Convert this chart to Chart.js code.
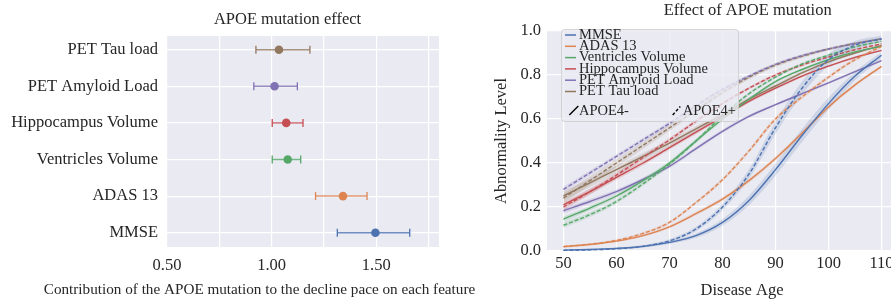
<!DOCTYPE html>
<html><head><meta charset="utf-8">
<script src="https://cdn.jsdelivr.net/npm/chart.js@4.4.1/dist/chart.umd.min.js"></script>
<style>
html,body{margin:0;padding:0;background:#fff;width:891px;height:306px;overflow:hidden;position:relative;}
#left{position:absolute;left:0;top:0;}
#right{position:absolute;left:480px;top:0;}
</style></head><body>
<canvas id="left" width="480" height="306"></canvas>
<canvas id="right" width="470" height="306"></canvas>
<script>
// ---------- Left panel data ----------
const features = ['MMSE','ADAS 13','Ventricles Volume','Hippocampus Volume','PET Amyloid Load','PET Tau load'];
const effect = [1.496, 1.341, 1.077, 1.070, 1.014, 1.035];
const ciLow  = [1.314, 1.210, 1.003, 1.003, 0.915, 0.925];
const ciHigh = [1.660, 1.456, 1.139, 1.150, 1.123, 1.183];
const leftXTicks = [0.5, 0.75, 1.0, 1.25, 1.5, 1.75];
const leftXLabeled = [0.5, 1.0, 1.5];
const colors = ['#4C72B0','#DD8452','#55A868','#C44E52','#8172B3','#937860'];

// ---------- Right panel data ----------
const ages = [50,55,60,65,70,75,80,85,90,95,100,105,110];
const mmseNeg  = [0.004,0.007,0.012,0.021,0.039,0.070,0.130,0.230,0.370,0.525,0.670,0.795,0.890];
const mmsePos  = [0.003,0.005,0.010,0.021,0.046,0.100,0.200,0.350,0.560,0.740,0.870,0.935,0.965];
const adasNeg  = [0.020,0.030,0.045,0.070,0.110,0.170,0.236,0.320,0.420,0.535,0.655,0.755,0.839];
const adasPos  = [0.020,0.030,0.048,0.080,0.130,0.220,0.324,0.455,0.600,0.700,0.790,0.870,0.930];
const ventNeg  = [0.145,0.195,0.250,0.320,0.400,0.500,0.600,0.690,0.770,0.825,0.870,0.905,0.930];
const ventPos  = [0.117,0.165,0.225,0.305,0.395,0.500,0.615,0.715,0.790,0.850,0.890,0.928,0.953];
const hippoNeg = [0.210,0.270,0.335,0.400,0.470,0.540,0.610,0.680,0.740,0.795,0.840,0.880,0.912];
const hippoPos = [0.200,0.270,0.345,0.425,0.505,0.590,0.670,0.740,0.800,0.845,0.882,0.915,0.942];
const amyNeg   = [0.183,0.225,0.270,0.325,0.385,0.465,0.544,0.612,0.665,0.715,0.764,0.815,0.865];
const amyPos   = [0.280,0.355,0.430,0.505,0.580,0.660,0.735,0.795,0.848,0.888,0.918,0.943,0.963];
const tauNeg   = [0.250,0.310,0.370,0.430,0.490,0.555,0.620,0.690,0.750,0.810,0.860,0.900,0.935];
const tauPos   = [0.240,0.320,0.400,0.480,0.560,0.640,0.720,0.790,0.845,0.885,0.918,0.943,0.965];
// half-widths of the shaded confidence bands
const mmseBand  = [0.003,0.003,0.004,0.005,0.007,0.010,0.015,0.022,0.028,0.030,0.027,0.020,0.014];
const adasBand  = [0.005,0.005,0.005,0.006,0.007,0.008,0.009,0.010,0.010,0.010,0.009,0.008,0.007];
const ventBand  = [0.012,0.011,0.010,0.010,0.010,0.009,0.009,0.008,0.007,0.006,0.005,0.005,0.004];
const hippoBand = [0.015,0.013,0.012,0.011,0.010,0.009,0.008,0.007,0.007,0.006,0.005,0.005,0.004];
const amyBand   = [0.012,0.011,0.010,0.009,0.009,0.008,0.008,0.007,0.006,0.006,0.005,0.005,0.004];
const tauBand   = [0.022,0.020,0.018,0.016,0.014,0.012,0.011,0.010,0.009,0.008,0.007,0.006,0.005];
const rightXTicks = [50,60,70,80,90,100,110,120];
const rightYTicks = [0,0.2,0.4,0.6,0.8,1.0];

const negSeries = [mmseNeg, adasNeg, ventNeg, hippoNeg, amyNeg, tauNeg];
const posSeries = [mmsePos, adasPos, ventPos, hippoPos, amyPos, tauPos];
const bands = [mmseBand, adasBand, ventBand, hippoBand, amyBand, tauBand];

const SERIF = '"Liberation Serif","Times New Roman",serif';
const TXT = '#262626';

function hexA(hex, a){
  const n = parseInt(hex.slice(1),16);
  return `rgba(${(n>>16)&255},${(n>>8)&255},${n&255},${a})`;
}

const bgPlugin = { id:'bg', beforeDraw(chart){
  const {ctx, chartArea:a} = chart;
  ctx.save(); ctx.fillStyle = '#EAEAF2';
  ctx.fillRect(a.left, a.top, a.right-a.left, a.bottom-a.top); ctx.restore();
}};
function textPlugin(items){ return { id:'txt', afterDraw(chart){
  const ctx = chart.ctx;
  items.forEach(t => {
    ctx.save(); ctx.font = t.font; ctx.fillStyle = TXT;
    ctx.textAlign = 'center'; ctx.textBaseline = 'middle';
    ctx.translate(t.x, t.y); if (t.rot) ctx.rotate(t.rot);
    ctx.fillText(t.text, 0, 0); ctx.restore();
  });
}};}

// ---------- Left chart ----------
const leftDatasets = [];
features.forEach((f,i) => {
  leftDatasets.push({ data:[{x:effect[i], y:i}], showLine:false, pointRadius:4.3,
    pointBackgroundColor:colors[i], pointBorderColor:colors[i], pointBorderWidth:0, pointHoverRadius:4.3 });
});
features.forEach((f,i) => {
  leftDatasets.push({ data:[{x:ciLow[i], y:i},{x:ciHigh[i], y:i}], showLine:true,
    borderColor:hexA(colors[i],0.8), borderWidth:1.5, pointStyle:'line', rotation:90,
    pointRadius:4, pointBorderColor:colors[i], pointBorderWidth:1.3, pointBackgroundColor:colors[i] });
});

new Chart(document.getElementById('left'), {
  type:'scatter',
  data:{ datasets:leftDatasets },
  options:{
    responsive:false, animation:false, devicePixelRatio:1,
    layout:{ padding:{ top:36, right:41, left:0, bottom:0 } },
    plugins:{ legend:{display:false}, tooltip:{enabled:false} },
    scales:{
      x:{ type:'linear', min:0.5, max:1.8,
        afterBuildTicks:s => { s.ticks = leftXTicks.map(v => ({value:v})); },
        afterFit:s => { s.height = 59; },
        grid:{ color:'#ffffff', lineWidth:1.2, drawTicks:false },
        border:{ display:false },
        ticks:{ padding:9, color:TXT, font:{ family:SERIF, size:16.5 }, maxRotation:0, autoSkip:false,
          callback:v => leftXLabeled.some(l => Math.abs(l-v) < 1e-6) ? v.toFixed(2) : '' } },
      y:{ type:'linear', min:-0.39, max:5.374,
        afterBuildTicks:s => { s.ticks = features.map((f,i) => ({value:i})); },
        afterFit:s => { s.width = 167; },
        grid:{ color:'#ffffff', lineWidth:1.2, drawTicks:false },
        border:{ display:false },
        ticks:{ padding:9, color:TXT, font:{ family:SERIF, size:16.5 }, autoSkip:false,
          callback:v => features[v] } }
    }
  },
  plugins:[ bgPlugin, textPlugin([
    { text:'APOE mutation effect', x:287.5, y:20, font:`16.5px ${SERIF}` },
    { text:'Contribution of the APOE mutation to the decline pace on each feature', x:259.5, y:290, font:`15.2px ${SERIF}` }
  ]) ]
});

// ---------- Right chart ----------
const rightDatasets = [];
features.forEach((f,i) => {
  rightDatasets.push({ data:ages.map((a,k)=>({x:a, y:negSeries[i][k]})), borderColor:colors[i],
    borderWidth:1.4, pointRadius:0, tension:0.4, cubicInterpolationMode:'monotone', fill:false });
  rightDatasets.push({ data:ages.map((a,k)=>({x:a, y:posSeries[i][k]})), borderColor:colors[i],
    borderWidth:1.4, borderDash:[4,2], pointRadius:0, tension:0.4, cubicInterpolationMode:'monotone', fill:false });
});
features.forEach((f,i) => {
  [negSeries[i], posSeries[i]].forEach(ser => {
    rightDatasets.push({ data:ages.map((a,k)=>({x:a, y:ser[k]+bands[i][k]})), borderWidth:0,
      pointRadius:0, tension:0.4, cubicInterpolationMode:'monotone', fill:false, borderColor:'rgba(0,0,0,0)' });
    rightDatasets.push({ data:ages.map((a,k)=>({x:a, y:ser[k]-bands[i][k]})), borderWidth:0,
      pointRadius:0, tension:0.4, cubicInterpolationMode:'monotone', fill:'-1', borderColor:'rgba(0,0,0,0)',
      backgroundColor:hexA(colors[i],0.18) });
  });
});

const legendPlugin = { id:'lg', afterDatasetsDraw(chart){
  const ctx = chart.ctx;
  ctx.save();
  ctx.beginPath();
  ctx.roundRect(81.5, 29.5, 177, 92, 3);
  ctx.fillStyle = 'rgba(234,234,242,0.8)'; ctx.fill();
  ctx.strokeStyle = 'rgba(204,204,204,0.8)'; ctx.lineWidth = 1; ctx.stroke();
  ctx.font = `14.5px ${SERIF}`; ctx.textBaseline = 'middle'; ctx.textAlign = 'left';
  features.forEach((n,i) => {
    const y = 35 + i*11.3;
    ctx.strokeStyle = colors[i]; ctx.lineWidth = 1.5; ctx.setLineDash([]);
    ctx.beginPath(); ctx.moveTo(85, y); ctx.lineTo(96, y); ctx.stroke();
    ctx.fillStyle = TXT; ctx.fillText(n, 99, y);
  });
  const yr = 110.7;
  ctx.strokeStyle = '#000'; ctx.lineWidth = 1.4;
  ctx.beginPath(); ctx.moveTo(89.3, 115); ctx.lineTo(98.3, 106); ctx.stroke();
  ctx.fillText('APOE4-', 99, yr);
  ctx.setLineDash([3,2]);
  ctx.beginPath(); ctx.moveTo(192.7, 115); ctx.lineTo(200.3, 106.5); ctx.stroke();
  ctx.setLineDash([]);
  ctx.fillText('APOE4+', 202.7, yr);
  ctx.restore();
}};

new Chart(document.getElementById('right'), {
  type:'line',
  data:{ datasets:rightDatasets },
  options:{
    responsive:false, animation:false, devicePixelRatio:1,
    layout:{ padding:{ top:31, right:10, left:0, bottom:0 } },
    plugins:{ legend:{display:false}, tooltip:{enabled:false}, filler:{ propagate:false } },
    scales:{
      x:{ type:'linear', min:46.9, max:120.6,
        afterBuildTicks:s => { s.ticks = rightXTicks.map(v => ({value:v})); },
        afterFit:s => { s.height = 55; },
        grid:{ color:'#ffffff', lineWidth:1.2, drawTicks:false },
        border:{ display:false },
        ticks:{ padding:3, color:TXT, font:{ family:SERIF, size:16.5 }, maxRotation:0, autoSkip:false,
          callback:v => String(v) } },
      y:{ type:'linear', min:0, max:1,
        afterBuildTicks:s => { s.ticks = rightYTicks.map(v => ({value:v})); },
        afterFit:s => { s.width = 67; },
        grid:{ color:'#ffffff', lineWidth:1.2, drawTicks:false },
        border:{ display:false },
        ticks:{ padding:6, color:TXT, font:{ family:SERIF, size:16.5 }, autoSkip:false,
          callback:v => v.toFixed(1) } }
    }
  },
  plugins:[ bgPlugin, legendPlugin, textPlugin([
    { text:'Effect of APOE mutation', x:267.7, y:11, font:`16.5px ${SERIF}` },
    { text:'Disease Age', x:262, y:291, font:`16.5px ${SERIF}` },
    { text:'Abnormality Level', x:21.7, y:141, font:`16.5px ${SERIF}`, rot:-Math.PI/2 }
  ]) ]
});
</script>
</body></html>
